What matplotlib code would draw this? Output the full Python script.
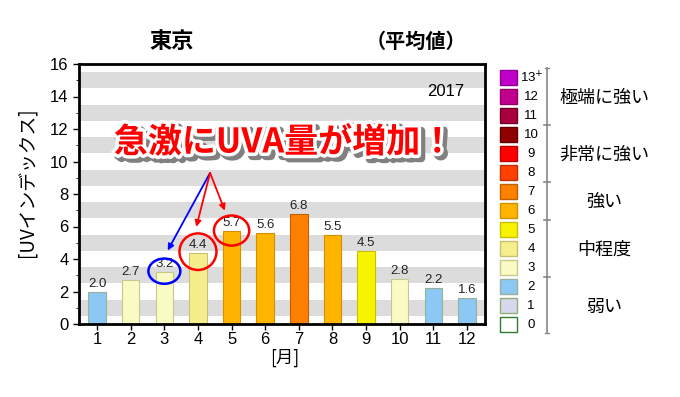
import numpy as np
import matplotlib
matplotlib.use('Agg')
import matplotlib.pyplot as plt
import matplotlib.patheffects as pe
from matplotlib.patches import Ellipse, Rectangle

plt.rcParams['font.family'] = ['Liberation Sans', 'Noto Sans CJK JP', 'DejaVu Sans']
JP = ['Noto Sans CJK JP', 'DejaVu Sans']

# 東京 2017 月別 UVインデックス平均値
months = [1, 2, 3, 4, 5, 6, 7, 8, 9, 10, 11, 12]
uv_values = [2.0, 2.7, 3.2, 4.4, 5.7, 5.6, 6.8, 5.5, 4.5, 2.8, 2.2, 1.6]

# UVインデックスの色 (0 .. 13+)
level_labels = ['0', '1', '2', '3', '4', '5', '6', '7', '8', '9', '10', '11', '12', '13$^{+}$']
level_colors = ['#ffffff', '#d8d8ec', '#8cc8f4', '#fafac4', '#f6ee8c', '#f8f400', '#ffb400',
                '#ff8000', '#ff4000', '#ff0000', '#900000', '#a8003c', '#c0008c', '#c000c8']
level_edges = ['#2e7d32', '#8fb07a', '#9ab09a', '#c8c88a', '#c8c070', '#c8c000', '#d09000',
               '#c06000', '#c03000', '#c00000', '#600000', '#700028', '#900068', '#900098']
group_names = ['弱い', '中程度', '強い', '非常に強い', '極端に強い']
group_ranges = [(0, 2), (3, 5), (6, 7), (8, 10), (11, 13)]

highlight = {3: 'blue', 4: 'red', 5: 'red'}

fig = plt.figure(figsize=(6.8, 3.97), dpi=100)
ax = fig.add_axes([79 / 680, 1 - 324 / 397, (485 - 79) / 680, (324 - 64) / 397])

# 背景の縞
for lo in np.arange(0.5, 16, 2):
    ax.axhspan(lo, lo + 1, color='#dcdcdc', lw=0, zorder=0)

colors = [level_colors[int(np.floor(v + 0.5))] for v in uv_values]
edges = [level_edges[int(np.floor(v + 0.5))] for v in uv_values]
ax.bar(months, uv_values, width=0.52, color=colors, edgecolor=edges, lw=0.8, zorder=2)
for m, v in zip(months, uv_values):
    ax.text(m, v + 0.12, f'{v:.1f}', ha='center', va='bottom', fontsize=9.5, color='#222', zorder=3)

ax.set_xlim(0.46, 12.54)
ax.set_ylim(0, 16)
ax.set_xticks(months)
ax.set_yticks(range(0, 17, 2))
ax.set_yticks(range(1, 16, 2), minor=True)
ax.tick_params(axis='both', labelsize=12, direction='out', width=1, length=4)
ax.tick_params(axis='x', pad=2)
ax.tick_params(axis='y', which='minor', length=2.5)
for s in ax.spines.values():
    s.set_linewidth(2)

ax.text(0.95, 0.896, '2017', transform=ax.transAxes, ha='right', va='center', fontsize=12)

# 丸と矢印
origin = (4.36, 9.3)
ell_size = {3: (0.95, 1.55), 4: (1.1, 2.25), 5: (1.05, 1.85)}
for m, c in highlight.items():
    v = uv_values[m - 1]
    w, h = ell_size[m]
    ax.add_patch(Ellipse((m, v + 0.05), w, h, fill=False, edgecolor=c, lw=1.8, zorder=4))
    ax.annotate('', xy=(m + 0.1 - 0.15 * (m - 3), v + h / 2 + 0.55 - 0.1 * (m - 3)), xytext=origin,
                arrowprops=dict(arrowstyle='-|>', color=c, lw=1.3, mutation_scale=9,
                                shrinkA=0, shrinkB=0), zorder=5)

fig.text(172 / 680, 1 - 41 / 397, '東京', ha='center', va='center', fontsize=16,
         fontweight='bold', family=JP)
fig.text(416 / 680, 1 - 41 / 397, '（平均値）', ha='center', va='center', fontsize=14.5,
         fontweight='bold', family=JP)
fig.text(27 / 680, 1 - 182 / 397, '[UVインデックス]', rotation=90, ha='center', va='center',
         fontsize=13.5, family=JP)
fig.text(285 / 680, 1 - 358 / 397, '[月]', ha='center', va='center', fontsize=12.5, family=JP)

msg = fig.text(284 / 680, 1 - 142 / 397, '急激にUVA量が増加！', ha='center', va='center',
               fontsize=24.5, fontweight='bold', color='#ff0000', family=JP, zorder=10)
msg.set_path_effects([pe.Stroke(linewidth=6, foreground='#808080', offset=(2.5, -2.5)),
                      pe.Stroke(linewidth=5, foreground='white'), pe.Normal()])

# 凡例 (ピクセル座標)
ov = fig.add_axes([0, 0, 1, 1])
ov.set_xlim(0, 680)
ov.set_ylim(397, 0)
ov.axis('off')
step = 19
top = 70
for lvl in range(len(level_labels)):
    y = top + (13 - lvl) * step
    ov.add_patch(Rectangle((500, y), 17, 15, facecolor=level_colors[lvl],
                           edgecolor=level_edges[lvl], lw=1))
    ov.text(531 if lvl < 13 else 532, y + 8, level_labels[lvl], ha='center', va='center', fontsize=9.5)
ov.plot([547, 547], [68, 333], color='#888', lw=1.2)
for yy in (68, 333):
    ov.plot([545, 549], [yy, yy], color='#888', lw=1)
for name, (lo, hi) in zip(group_names, group_ranges):
    y_hi = top + (13 - hi) * step - 2
    y_lo = top + (13 - lo) * step + 17
    if hi < 13:
        ov.plot([544, 550], [y_hi, y_hi], color='#888', lw=1.2)
    ov.text(604, (y_hi + y_lo) / 2 + 1, name, ha='center', va='center', fontsize=13, family=JP)

fig.savefig('out.png', dpi=100)
